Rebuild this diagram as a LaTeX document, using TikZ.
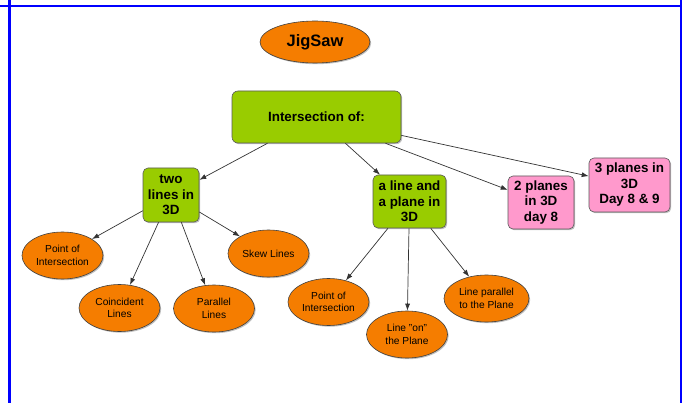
\documentclass[tikz,border=0pt]{standalone}
\usepackage{fontspec}
\setmainfont{Liberation Sans}
\usetikzlibrary{arrows.meta,shadows,shapes.geometric}
\definecolor{oran}{HTML}{F57D00}
\definecolor{grn}{HTML}{99CC00}
\definecolor{pnk}{HTML}{FF99CC}
\definecolor{frame}{HTML}{0000FF}
\tikzset{
  shad/.style={drop shadow={shadow xshift=1.2pt,shadow yshift=-1.2pt,opacity=0.25,fill=black}},
  oval/.style={ellipse,draw=black!75,line width=0.6pt,fill=oran,inner sep=0pt,
    minimum width=81pt,minimum height=47pt,align=center,
    font=\fontsize{10.2}{12.7}\selectfont,shad},
  gbox/.style={rectangle,rounded corners=5pt,draw=black!65,line width=0.6pt,fill=grn,
    inner sep=0pt,align=center,font=\bfseries\fontsize{13.4}{15.5}\selectfont,shad},
  pbox/.style={gbox,fill=pnk},
  conn/.style={draw=black!80,line width=0.7pt,-{Latex[length=7pt,width=5pt]}}
}
\begin{document}
\begin{tikzpicture}[x=1pt,y=-1pt]
\useasboundingbox (0,0) rectangle (682,403);
% frame lines
\draw[frame,line width=2.5pt] (0,6) -- (682,6);
\draw[frame,line width=3pt] (9,0) -- (9,403);
\draw[frame,line width=2.5pt] (681,0) -- (681,403);
% nodes
\node[oval,minimum width=110pt,minimum height=42pt,font=\bfseries\fontsize{16.5}{18}\selectfont] (jig) at (315,42) {JigSaw};
\node[gbox,rounded corners=6pt,minimum width=169pt,minimum height=52pt] (inter) at (316.5,117) {Intersection of:};
\node[gbox,minimum width=56pt,minimum height=54pt] (two) at (171,195) {two\\lines in\\3D};
\node[gbox,minimum width=73pt,minimum height=53pt] (aline) at (409.5,201.5) {a line and\\a plane in\\3D};
\node[pbox,minimum width=66pt,minimum height=53pt] (twop) at (541,202.5) {2 planes\\in 3D\\day 8};
\node[pbox,minimum width=81pt,minimum height=54pt] (threep) at (629.5,185) {3 planes in\\3D\\Day 8 \& 9};
\node[oval] (poi1) at (62.5,255.5) {Point of\\Intersection};
\node[oval] (coin) at (119.5,308) {Coincident\\Lines};
\node[oval] (par) at (214,308.5) {Parallel\\Lines};
\node[oval] (skew) at (268.5,253.5) {Skew Lines};
\node[oval] (poi2) at (328.5,302) {Point of\\Intersection};
\node[oval] (on) at (407,334.5) {Line "on"\\the Plane};
\node[oval,minimum width=85pt] (lpar) at (486.5,298.5) {Line parallel\\to the Plane};
% connectors
\draw[conn] (inter) -- (two);
\draw[conn] (inter) -- (aline);
\draw[conn] (inter) -- (twop);
\draw[conn] (inter) -- (threep);
\draw[conn] (two) -- (poi1);
\draw[conn] (two) -- (coin);
\draw[conn] (two) -- (par);
\draw[conn] (two) -- (skew);
\draw[conn] (aline) -- (poi2);
\draw[conn] (aline) -- (on);
\draw[conn] (aline) -- (lpar);
\end{tikzpicture}
\end{document}
